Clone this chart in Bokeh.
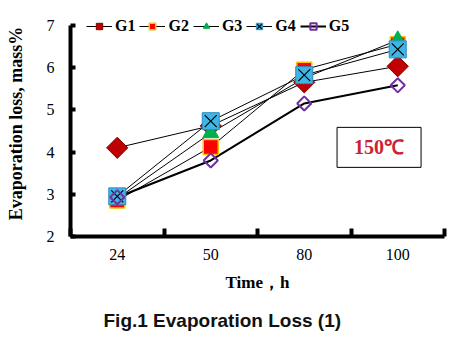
import math
from bokeh.plotting import figure
from bokeh.models import (FixedTicker, Legend, LegendItem, Label, Title, Range1d)
from bokeh.embed import file_html
from bokeh.resources import INLINE

times = ["24", "50", "80", "100"]
g1 = [4.10, 4.62, 5.65, 6.03]
g2 = [2.85, 4.12, 5.95, 6.55]
g3 = [2.90, 4.45, 5.75, 6.65]
g4 = [2.95, 4.73, 5.82, 6.43]
g5 = [2.93, 3.80, 5.15, 5.58]
y_ticks = [2, 3, 4, 5, 6, 7]

xs = list(range(len(times)))

SERIF = "Liberation Serif"

p = figure(frame_width=374, frame_height=226, output_backend="svg", toolbar_location=None,
           x_range=Range1d(-0.5, len(times) - 0.5), y_range=Range1d(2, 7.35),
           min_border_left=70, min_border_right=12, min_border_top=10,
           min_border_bottom=117)
p.outline_line_color = None
p.xgrid.visible = False
p.ygrid.visible = False
p.background_fill_color = "white"
p.border_fill_color = "white"

# lines
thin = dict(line_color="black", line_width=1)
l1 = p.line(xs, g1, **thin)
l2 = p.line(xs, g2, **thin)
l3 = p.line(xs, g3, **thin)
l4 = p.line(xs, g4, **thin)
l5 = p.line(xs, g5, line_color="black", line_width=2)

# markers
m1 = p.scatter(xs, g1, marker="square", angle=math.pi / 4, size=15,
               fill_color="#C00000", line_color="#7F0000", line_width=1)
m2 = p.scatter(xs, g2, marker="square", size=15,
               fill_color="#FF0000", line_color="#FFC000", line_width=1.5)
m3 = p.scatter(xs, g3, marker="triangle", size=16,
               fill_color="#00B050", line_color="#00B050", line_width=1)
m4 = p.scatter(xs, g4, marker="square", size=17,
               fill_color="#3DB6E6", line_color="#2E8BC0", line_width=1)
m4x = p.scatter(xs, g4, marker="x", size=17, line_color="black", line_width=1.2)
m5 = p.scatter(xs, g5, marker="square", angle=math.pi / 4, size=10,
               fill_alpha=0, line_color="#7030A0", line_width=2)

# axes
xa = p.xaxis[0]
xa.ticker = FixedTicker(ticks=xs, minor_ticks=[x - 0.5 for x in xs] + [xs[-1] + 0.5])
xa.major_label_overrides = {i: t for i, t in enumerate(times)}
xa.major_tick_in = 0
xa.major_tick_out = 0
xa.minor_tick_in = 8
xa.minor_tick_out = 0
xa.minor_tick_line_width = 4
xa.minor_tick_line_color = "black"
xa.axis_line_width = 4
xa.axis_line_color = "black"
xa.major_label_standoff = 12
xa.major_label_text_font = SERIF
xa.major_label_text_font_size = "16px"
xa.major_label_text_color = "black"
xa.axis_label = "Time，h"
xa.axis_label_text_font = SERIF
xa.axis_label_text_font_style = "bold"
xa.axis_label_text_font_size = "17px"
xa.axis_label_text_color = "black"
xa.axis_label_standoff = 10

ya = p.yaxis[0]
ya.ticker = FixedTicker(ticks=y_ticks, minor_ticks=[])
ya.bounds = (2, 7)
ya.major_tick_in = 5
ya.major_tick_out = 0
ya.major_tick_line_width = 4
ya.major_tick_line_color = "black"
ya.minor_tick_in = 0
ya.minor_tick_out = 0
ya.axis_line_width = 4
ya.axis_line_color = "black"
ya.major_label_standoff = 16
ya.major_label_text_font = SERIF
ya.major_label_text_font_size = "16px"
ya.major_label_text_color = "black"
ya.axis_label = "Evaporation loss, mass%"
ya.axis_label_text_font = SERIF
ya.axis_label_text_font_style = "bold"
ya.axis_label_text_font_size = "18px"
ya.axis_label_text_color = "black"
ya.axis_label_standoff = 18

# legend
legend = Legend(items=[
    LegendItem(label="G1", renderers=[l1, m1]),
    LegendItem(label="G2", renderers=[l2, m2]),
    LegendItem(label="G3", renderers=[l3, m3]),
    LegendItem(label="G4", renderers=[l4, m4, m4x]),
    LegendItem(label="G5", renderers=[l5, m5]),
], orientation="horizontal", location=(16, 201), padding=0, margin=0,
    spacing=4, glyph_width=26, glyph_height=16, label_standoff=3,
    label_text_font=SERIF, label_text_font_style="bold",
    label_text_font_size="16px", label_text_color="black",
    border_line_color=None, background_fill_alpha=0)
p.add_layout(legend, "center")

# temperature box
p.add_layout(Label(x=2.80, y=4.11, text="150℃", text_align="center",
                   text_baseline="middle", text_font=SERIF,
                   text_font_style="bold", text_font_size="20px",
                   text_color="#CC2233", border_line_color="black",
                   border_line_width=1, background_fill_color="white",
                   padding=(17, 9)))

# caption
cap = Title(text="Fig.1 Evaporation Loss (1)", align="left", offset=33,
            text_font="Liberation Sans", text_font_style="bold",
            text_font_size="19px", text_color="#111111", standoff=26)
p.add_layout(cap, "below")

open("out.html", "w").write(file_html(p, INLINE))
